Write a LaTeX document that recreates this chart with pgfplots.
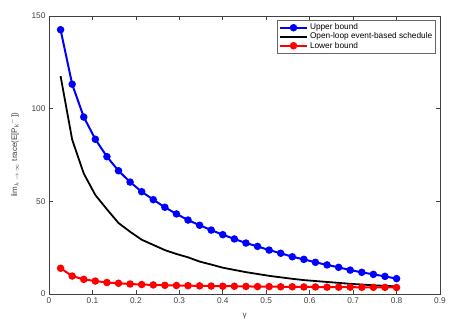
\documentclass[border=0pt]{standalone}
\usepackage{pgfplots}
\pgfplotsset{compat=1.18}
\usepackage{pgfplotstable}
\usepackage{fontspec}
\setmainfont{Liberation Sans}
\usetikzlibrary{calc}
\pgfplotstableread{
x y
0.026667 142.6
0.053333 113.2
0.080000 95.5
0.106667 83.5
0.133333 74.1
0.160000 66.5
0.186667 60.4
0.213333 55.2
0.240000 50.9
0.266667 46.8
0.293333 43.2
0.320000 39.9
0.346667 37.1
0.373333 34.5
0.400000 32.0
0.426667 29.7
0.453333 27.5
0.480000 25.7
0.506667 23.7
0.533333 22.0
0.560000 20.1
0.586667 18.7
0.613333 17.1
0.640000 15.7
0.666667 14.4
0.693333 12.9
0.720000 11.7
0.746667 10.6
0.773333 9.5
0.800000 8.3
}\tabUpper
\pgfplotstableread{
x y
0.026667 117.6
0.053333 83.3
0.080000 65.0
0.106667 53.4
0.133333 45.7
0.160000 38.3
0.186667 33.6
0.213333 29.3
0.240000 26.5
0.266667 23.7
0.293333 21.6
0.320000 19.8
0.346667 17.5
0.373333 15.9
0.400000 14.2
0.426667 13.0
0.453333 11.8
0.480000 10.8
0.506667 9.8
0.533333 9.0
0.560000 8.2
0.586667 7.5
0.613333 7.0
0.640000 6.5
0.666667 6.0
0.693333 5.5
0.720000 5.1
0.746667 4.7
0.773333 4.4
0.800000 4.1
}\tabOpen
\pgfplotstableread{
x y
0.026667 13.9
0.053333 9.7
0.080000 7.9
0.106667 7.0
0.133333 6.2
0.160000 5.8
0.186667 5.4
0.213333 5.1
0.240000 4.9
0.266667 4.7
0.293333 4.6
0.320000 4.5
0.346667 4.4
0.373333 4.3
0.400000 4.2
0.426667 4.2
0.453333 4.1
0.480000 4.0
0.506667 4.0
0.533333 3.9
0.560000 3.9
0.586667 3.8
0.613333 3.8
0.640000 3.7
0.666667 3.7
0.693333 3.7
0.720000 3.6
0.746667 3.6
0.773333 3.6
0.800000 3.5
}\tabLower
\begin{document}
\begin{tikzpicture}
\begin{axis}[
  name=ax,
  scale only axis,
  width=391pt, height=278pt,
  xmin=0, xmax=0.9, ymin=0, ymax=150,
  xtick={0,0.1,...,0.9},
  ytick={0,50,100,150},
  xticklabels={0,0.1,0.2,0.3,0.4,0.5,0.6,0.7,0.8,0.9},
  tick align=inside,
  tick pos=both,
  major tick length=4pt,
  axis line style={black!75, line width=0.6pt},
  tick style={black!75, line width=0.6pt},
  ticklabel style={font=\fontsize{8.3}{9}\selectfont, text=black!75},
  /pgf/number format/assume math mode=true,
  xlabel={γ},
  ylabel={lim\textsubscript{$k\to\infty$} trace(E[P\textsubscript{k}\textsuperscript{$-$}])},
  label style={font=\fontsize{8}{9}\selectfont, text=black!75},
  xlabel style={yshift=-3pt},
  ylabel style={yshift=6pt},
  legend style={at={(0.99,0.985)}, anchor=north east, font=\fontsize{8.3}{9}\selectfont,
    draw=black!60, line width=0.6pt, inner sep=1.5pt, row sep=-2.5pt, legend cell align=left},
  legend image code/.code={\draw[#1] (0pt,0pt) -- (27pt,0pt); \draw[#1, only marks] plot coordinates {(13.5pt,0pt)};},
]
\addplot[blue, line width=2pt, mark=*, mark size=2.7pt] table {\tabUpper};
\addlegendentry{Upper bound}
\addplot[black, line width=1.8pt] table {\tabOpen};
\addlegendentry{Open-loop event-based schedule}
\addplot[red, line width=2pt, mark=*, mark size=2.7pt] table {\tabLower};
\addlegendentry{Lower bound}
\end{axis}
\pgfresetboundingbox
\path ($(ax.south west)+(-49pt,-25pt)$) rectangle ($(ax.north east)+(30pt,16pt)$);
\end{tikzpicture}
\end{document}
